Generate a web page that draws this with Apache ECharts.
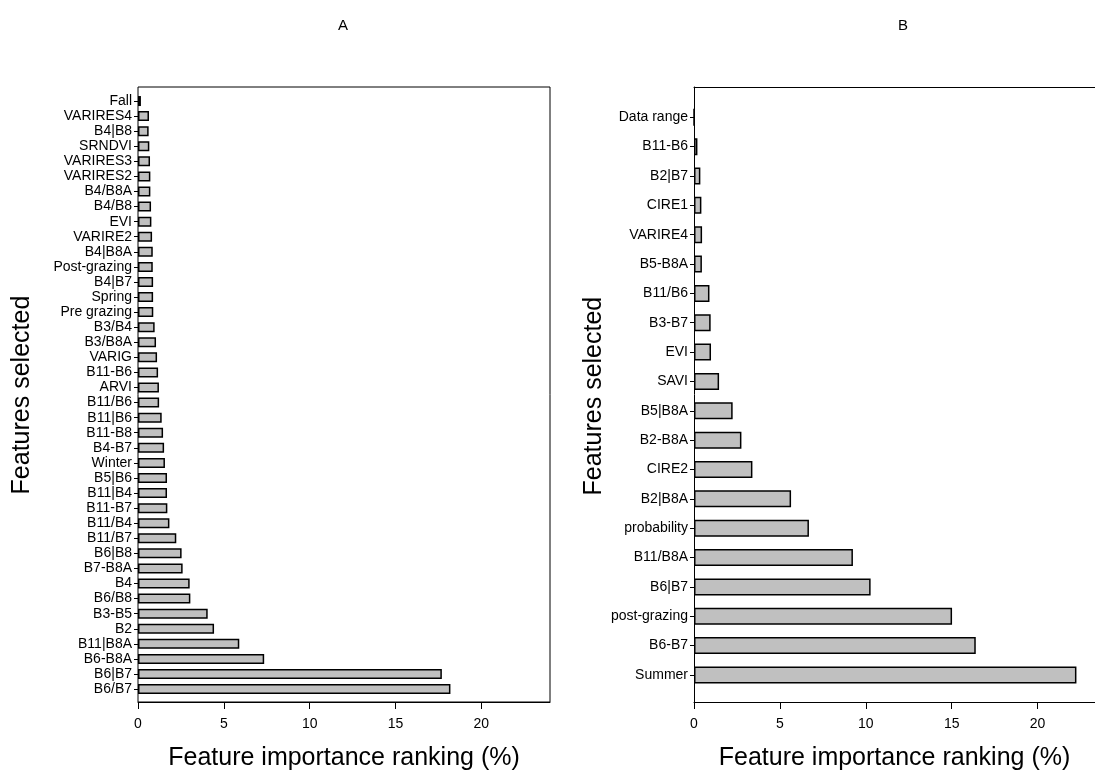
<!DOCTYPE html>
<html>
<head>
<meta charset="utf-8">
<script src="https://cdn.jsdelivr.net/npm/echarts@6/dist/echarts.min.js"></script>
<style>
html,body{margin:0;padding:0;background:#fff;}
#chart{width:1095px;height:776px;}
</style>
</head>
<body>
<div id="chart"></div>
<script>
// Panel A (top to bottom)
const categoriesA = ["Fall","VARIRES4","B4|B8","SRNDVI","VARIRES3","VARIRES2","B4/B8A","B4/B8","EVI","VARIRE2","B4|B8A","Post-grazing","B4|B7","Spring","Pre grazing","B3/B4","B3/B8A","VARIG","B11-B6","ARVI","B11/B6","B11|B6","B11-B8","B4-B7","Winter","B5|B6","B11|B4","B11-B7","B11/B4","B11/B7","B6|B8","B7-B8A","B4","B6/B8","B3-B5","B2","B11|B8A","B6-B8A","B6|B7","B6/B7"];
const valuesA = [0.17,0.64,0.62,0.66,0.70,0.72,0.72,0.76,0.78,0.82,0.86,0.86,0.88,0.88,0.89,0.97,1.05,1.11,1.17,1.22,1.23,1.38,1.46,1.52,1.57,1.69,1.69,1.71,1.83,2.23,2.54,2.60,3.01,3.05,4.06,4.43,5.90,7.35,17.7,18.2];
// Panel B (top to bottom)
const categoriesB = ["Data range","B11-B6","B2|B7","CIRE1","VARIRE4","B5-B8A","B11/B6","B3-B7","EVI","SAVI","B5|B8A","B2-B8A","CIRE2","B2|B8A","probability","B11/B8A","B6|B7","post-grazing","B6-B7","Summer"];
const valuesB = [0,0.20,0.37,0.43,0.47,0.46,0.90,0.97,0.99,1.46,2.25,2.76,3.40,5.65,6.69,9.25,10.28,15.02,16.40,22.26];
const xTicks = [0,5,10,15,20];
const titleA = "A", titleB = "B";
const xTitle = "Feature importance ranking (%)";
const yTitle = "Features selected";

const FONT = "Liberation Sans, Arial, Helvetica, sans-serif";
const chart = echarts.init(document.getElementById('chart'), null, {renderer:'canvas'});

function frameX(grid, max){
  return {
    gridIndex: grid, type:'value', min:0, max:max, position:'bottom',
    axisLine:{show:true, onZero:false, lineStyle:{color:'#000', width:1}},
    axisTick:{show:true, length:7, lineStyle:{color:'#000'}, customValues: xTicks},
    axisLabel:{show:true, color:'#000', fontSize:14, fontFamily:FONT, margin:15, customValues: xTicks},
    splitLine:{show:false},
    name: xTitle, nameLocation:'middle', nameGap:44,
    nameTextStyle:{fontSize:25, color:'#000', fontFamily:FONT}
  };
}
function topLineX(grid, max){
  return {
    gridIndex: grid, type:'value', min:0, max:max, position:'top',
    axisLine:{show:true, onZero:false, lineStyle:{color:'#000', width:1}},
    axisTick:{show:false}, axisLabel:{show:false}, splitLine:{show:false}
  };
}
function hiddenX(grid, max){
  return {gridIndex:grid, type:'value', min:0, max:max, show:false, splitLine:{show:false}};
}
function catY(grid, cats, gap){
  return {
    gridIndex: grid, type:'category', data:cats, inverse:true,
    axisLine:{show:false},
    axisTick:{show:true, alignWithLabel:true, length:4, lineStyle:{color:'#000'}},
    axisLabel:{color:'#000', fontSize:14, fontFamily:FONT, margin:6, interval:0},
    name: yTitle, nameLocation:'middle', nameGap:gap, nameRotate:90,
    nameTextStyle:{fontSize:25, color:'#000', fontFamily:FONT}
  };
}
function frameY(grid, showLine){
  return {gridIndex:grid, type:'value', min:0, max:1, position:'left',
    axisLine:{show:showLine, onZero:false, lineStyle:{color:'#000', width:1}},
    axisTick:{show:false}, axisLabel:{show:false}, splitLine:{show:false}};
}
const barStyle = {color:'#c0c0c0', borderColor:'#000', borderWidth:1.5};

chart.setOption({
  animation:false,
  backgroundColor:'#fff',
  textStyle:{fontFamily:FONT},
  title:[
    {text:titleA, left:333, top:13, textStyle:{fontSize:15, fontWeight:'normal', color:'#000', fontFamily:FONT}},
    {text:titleB, left:893, top:13, textStyle:{fontSize:15, fontWeight:'normal', color:'#000', fontFamily:FONT}}
  ],
  grid:[
    {left:138, width:412, top:93.5, height:603.1, containLabel:false},
    {left:138, width:412, top:87, height:617, show:true, borderColor:'#000', borderWidth:1, backgroundColor:'transparent'},
    {left:694, width:401, top:102.6, height:587, containLabel:false},
    {left:694, width:401, top:87, height:617, show:false}
  ],
  xAxis:[ hiddenX(0,24), frameX(1,24), hiddenX(2,23.34), frameX(3,23.34), topLineX(3,23.34) ],
  yAxis:[ catY(0, categoriesA, 103), frameY(1,false), catY(2, categoriesB, 81), frameY(3,true) ],
  series:[
    {type:'bar', xAxisIndex:0, yAxisIndex:0, data:valuesA, barWidth:10, itemStyle:barStyle},
    {type:'bar', xAxisIndex:2, yAxisIndex:2, data:valuesB, barWidth:17, itemStyle:barStyle}
  ]
});
</script>
</body>
</html>
